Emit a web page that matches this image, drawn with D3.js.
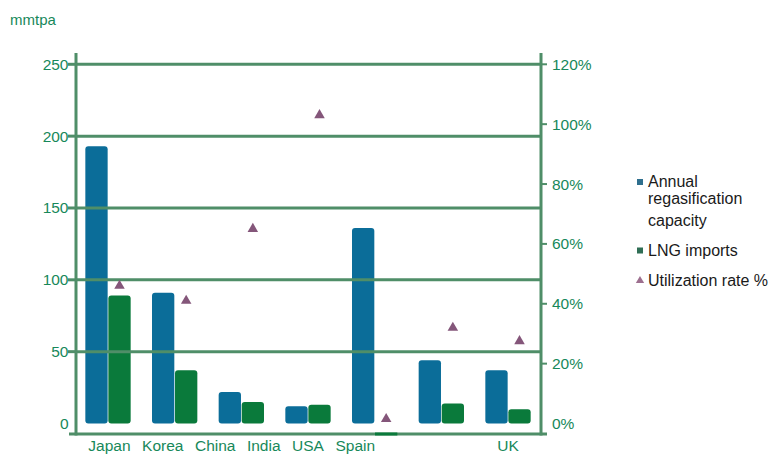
<!DOCTYPE html>
<html>
<head>
<meta charset="utf-8">
<script src="https://cdn.jsdelivr.net/npm/d3@7"></script>
<style>
  html, body { margin: 0; padding: 0; background: #fff; }
  svg { display: block; font-family: "Liberation Sans", Arial, sans-serif; }
</style>
</head>
<body>
<svg id="chart" width="770" height="454"></svg>
<script>
// LNG regasification capacity vs. imports (mmtpa) and utilization rate
const groups = ["Japan", "Korea", "China", "USA", "Spain", "Other", "UK"];
const capacity = [193, 91, 22, 12, 136, 44, 37];      // annual regasification capacity, mmtpa
const imports = [89, 37, 15, 13, 0, 14, 10];           // LNG imports, mmtpa
const utilization = [46, 41, 65, 103, 1.5, 32, 27.5];  // utilization rate, %
const axisLabels = ["Japan", "Korea", "China", "India", "USA", "Spain"];
const lastLabel = "UK";
const leftTicks = [0, 50, 100, 150, 200, 250];
const rightTicks = [0, 20, 40, 60, 80, 100, 120];
const legendItems = [
  { key: "cap", lines: ["Annual", "regasification", "capacity"] },
  { key: "imp", lines: ["LNG imports"] },
  { key: "util", lines: ["Utilization rate %"] }
];

const C = {
  blue: "#0b6d99",
  green: "#0a7a3b",
  grid: "#4f8e68",
  text: "#17885a",
  tri: "#84567a",
  legBlue: "#2f6f8e",
  legGreen: "#2f6e55",
  legTri: "#9d6f8f"
};

const svg = d3.select("#chart");

const x = d3.scaleBand().domain(groups).range([76, 540]).paddingInner(0.32).paddingOuter(0.14);
const xs = d3.scaleBand().domain(["cap", "imp"]).range([0, x.bandwidth()]).paddingInner(0.03);
const yL = d3.scaleLinear().domain([0, 250]).range([423.5, 64.3]);
const yR = d3.scaleLinear().domain([0, 120]).range([423.5, 64.3]);

const axisLeftX = 76, axisRightX = 541, axisBottomY = 434, axisTopY = 53;

// unit label
svg.append("text").attr("x", 10).attr("y", 25).attr("fill", C.text)
  .style("font-size", "15px").text("mmtpa");

// bars
const g = svg.append("g");
groups.forEach((name, i) => {
  const gx = x(name);
  [["cap", capacity[i], C.blue], ["imp", imports[i], C.green]].forEach(([k, v, col]) => {
    if (v <= 0) return;
    g.append("rect")
      .attr("x", gx + xs(k))
      .attr("y", yL(v))
      .attr("width", xs.bandwidth())
      .attr("height", yL(0) - yL(v))
      .attr("rx", 3)
      .attr("fill", col);
  });
});

// horizontal grid lines (drawn over bars)
svg.append("g").selectAll("line")
  .data(leftTicks.filter(d => d > 0))
  .join("line")
  .attr("x1", axisLeftX).attr("x2", axisRightX)
  .attr("y1", d => yL(d)).attr("y2", d => yL(d))
  .attr("stroke", C.grid).attr("stroke-width", 3);

// axis frame
svg.append("line").attr("x1", axisLeftX).attr("x2", axisLeftX)
  .attr("y1", axisTopY).attr("y2", axisBottomY + 1.5)
  .attr("stroke", C.grid).attr("stroke-width", 3);
svg.append("line").attr("x1", axisRightX).attr("x2", axisRightX)
  .attr("y1", axisTopY).attr("y2", axisBottomY + 1.5)
  .attr("stroke", C.grid).attr("stroke-width", 3);
svg.append("line").attr("x1", 69).attr("x2", 547)
  .attr("y1", axisBottomY).attr("y2", axisBottomY)
  .attr("stroke", C.grid).attr("stroke-width", 3);

// Spain imports marker sitting on the baseline
svg.append("rect")
  .attr("x", x("Spain") + xs("imp"))
  .attr("y", axisBottomY - 1.5)
  .attr("width", xs.bandwidth())
  .attr("height", 3)
  .attr("fill", C.green);

// left ticks and labels
const lt = svg.append("g");
leftTicks.forEach(v => {
  if (v > 0) {
    lt.append("line").attr("x1", 68).attr("x2", axisLeftX)
      .attr("y1", yL(v)).attr("y2", yL(v))
      .attr("stroke", C.grid).attr("stroke-width", 3);
  }
  lt.append("text").attr("x", 68.5).attr("y", yL(v) + 5.5)
    .attr("text-anchor", "end").attr("fill", C.text)
    .style("font-size", "15.5px").text(v);
});

// right ticks and labels
const rt = svg.append("g");
rightTicks.forEach(v => {
  if (v > 0) {
    rt.append("line").attr("x1", axisRightX).attr("x2", 547)
      .attr("y1", yR(v)).attr("y2", yR(v))
      .attr("stroke", C.grid).attr("stroke-width", 2);
  }
  rt.append("text").attr("x", 552).attr("y", yR(v) + 5.5)
    .attr("fill", C.text)
    .style("font-size", "15.5px").text(v + "%");
});

// utilization triangles, centred over the imports bar
svg.append("g").selectAll("path")
  .data(groups)
  .join("path")
  .attr("d", d3.symbol(d3.symbolTriangle, 48))
  .attr("transform", (d, i) => `translate(${x(d) + xs("imp") + xs.bandwidth() / 2},${yR(utilization[i])})`)
  .attr("fill", C.tri);

// category labels along the bottom, laid out left to right
const labelRow = svg.append("g").attr("fill", C.text).style("font-size", "15.5px");
let cursor = x(groups[0]) + 3;
axisLabels.forEach(lbl => {
  const t = labelRow.append("text").attr("x", cursor).attr("y", 451).text(lbl);
  cursor += t.node().getComputedTextLength() + 11.5;
});
labelRow.append("text")
  .attr("x", x(lastLabel) + x.bandwidth() / 2)
  .attr("y", 451)
  .attr("text-anchor", "middle")
  .text(lastLabel);

// legend
const leg = svg.append("g");
const legendBaselines = [[187, 204, 225.5], [255.5], [285.7]];
legendItems.forEach((item, i) => {
  const base = legendBaselines[i];
  const cy = base[0] - 5;
  if (item.key === "util") {
    leg.append("path").attr("d", d3.symbol(d3.symbolTriangle, 30))
      .attr("transform", `translate(640,${cy})`).attr("fill", C.legTri);
  } else {
    leg.append("rect").attr("x", 637).attr("y", cy - 3).attr("width", 6).attr("height", 6)
      .attr("fill", item.key === "cap" ? C.legBlue : C.legGreen);
  }
  const t = leg.append("text").attr("fill", "#1a1a1a").style("font-size", "16px");
  item.lines.forEach((ln, j) => {
    t.append("tspan").attr("x", 648).attr("y", base[j]).text(ln);
  });
});
</script>
</body>
</html>
